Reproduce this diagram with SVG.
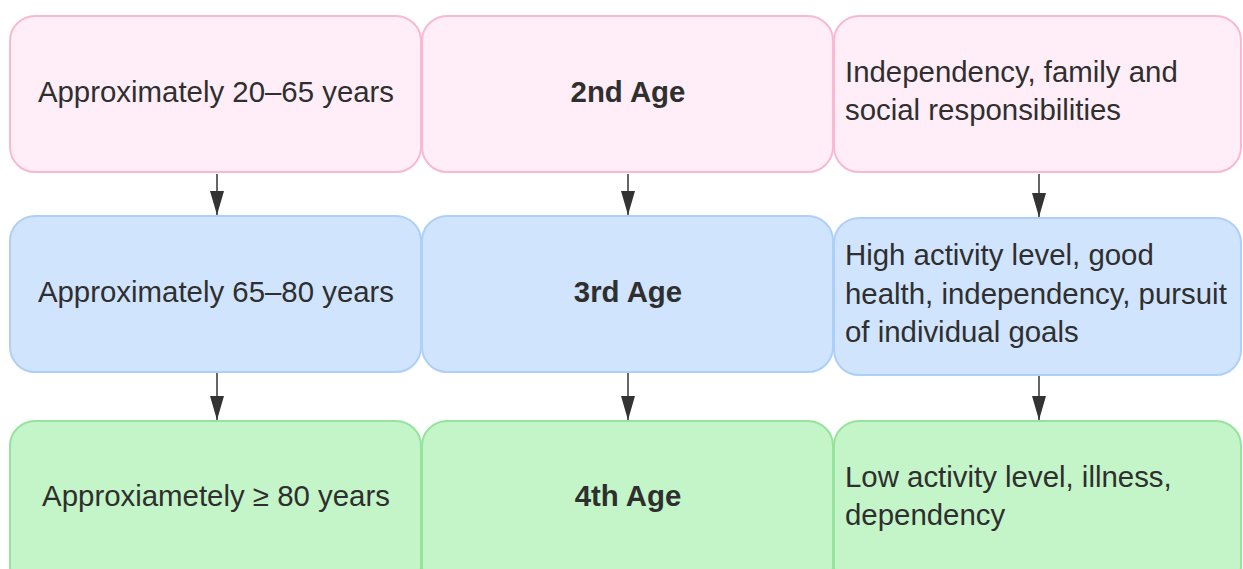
<svg xmlns="http://www.w3.org/2000/svg" width="1243" height="569" viewBox="0 0 1243 569">
<style>
.box{stroke-width:2}
.pink{fill:#FFEEF8;stroke:#F8B9D3}
.blue{fill:#D0E4FE;stroke:#AED0F6}
.green{fill:#C3F5C8;stroke:#95E39C}
text{font-family:"Liberation Sans",Arial,sans-serif;font-size:29.4px;fill:#2F2F2F}
.c{text-anchor:middle}
.b{font-weight:bold}
.conn{stroke:#333333;stroke-width:1.5;fill:none}
</style>
<defs>
<marker id="ah" viewBox="0 0 24 14" refX="24" refY="7" markerWidth="24" markerHeight="14" markerUnits="userSpaceOnUse" orient="auto">
<path d="M0,0 L24,7 L0,14 z" fill="#333333"/>
</marker>
</defs>
<rect width="1243" height="569" fill="#ffffff"/>
<g id="connectors">
<path class="conn" d="M217,174 V215" marker-end="url(#ah)"/>
<path class="conn" d="M628,174 V215" marker-end="url(#ah)"/>
<path class="conn" d="M1039,174 V217" marker-end="url(#ah)"/>
<path class="conn" d="M217,373 V420" marker-end="url(#ah)"/>
<path class="conn" d="M628,373 V420" marker-end="url(#ah)"/>
<path class="conn" d="M1039,376 V420" marker-end="url(#ah)"/>
</g>
<g id="r1c1"><rect class="box pink" x="10" y="16" width="411" height="156" rx="25"/><text class="c" x="216" y="102">Approximately 20–65 years</text></g>
<g id="r1c2"><rect class="box pink" x="422" y="16" width="411" height="156" rx="25"/><text class="c b" x="628" y="102">2nd Age</text></g>
<g id="r1c3"><rect class="box pink" x="834" y="16" width="407" height="156" rx="25"/><text x="845" y="82">Independency, family and</text><text x="845" y="120">social responsibilities</text></g>
<g id="r2c1"><rect class="box blue" x="10" y="216" width="411" height="156" rx="25"/><text class="c" x="216" y="302">Approximately 65–80 years</text></g>
<g id="r2c2"><rect class="box blue" x="422" y="216" width="411" height="156" rx="25"/><text class="c b" x="628" y="302">3rd Age</text></g>
<g id="r2c3"><rect class="box blue" x="834" y="218" width="407" height="157" rx="25"/><text x="845" y="265">High activity level, good</text><text x="845" y="304">health, independency, pursuit</text><text x="845" y="342">of individual goals</text></g>
<g id="r3c1"><rect class="box green" x="10" y="421" width="411" height="170" rx="25"/><text class="c" x="216" y="506">Approxiametely ≥ 80 years</text></g>
<g id="r3c2"><rect class="box green" x="422" y="421" width="411" height="170" rx="25"/><text class="c b" x="628" y="506">4th Age</text></g>
<g id="r3c3"><rect class="box green" x="834" y="421" width="407" height="170" rx="25"/><text x="845" y="487">Low activity level, illness,</text><text x="845" y="525">dependency</text></g>
</svg>
